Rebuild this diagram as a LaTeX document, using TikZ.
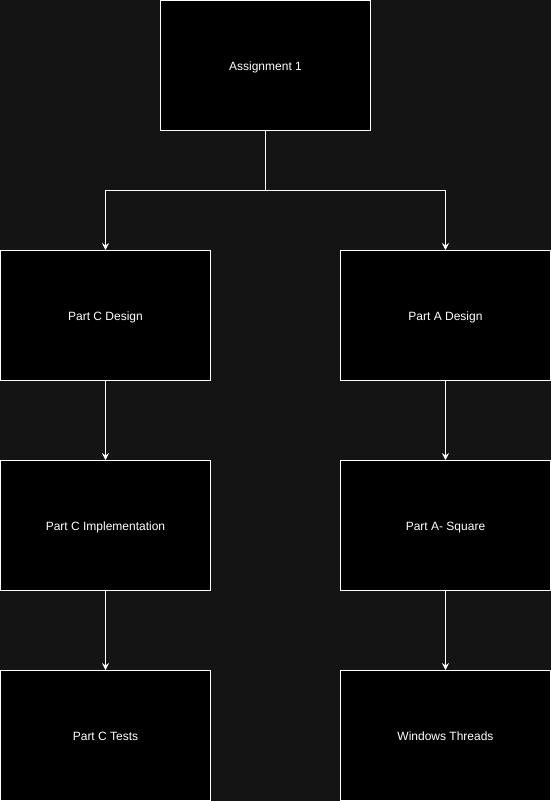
\documentclass[tikz,border=0pt]{standalone}
\usepackage{fontspec}
\setmainfont{Liberation Sans}
\usetikzlibrary{arrows.meta}
\definecolor{bgc}{HTML}{141414}
\tikzset{
  box/.style={draw=white, fill=black, line width=1pt, minimum width=210pt, minimum height=130pt, inner sep=0pt, text=white, text height=13pt, text depth=3pt, font=\fontsize{12pt}{14pt}\selectfont},
  conn/.style={draw=white, line width=1pt, -{Stealth[length=7pt,width=7pt,inset=2.5pt]}}
}
\begin{document}
\begin{tikzpicture}[x=1pt,y=-1pt]
\fill[bgc] (0,0) rectangle (551,801);
\useasboundingbox (0,0) rectangle (551,801);
\node[box] (a1) at (265.5,65.5) {Assignment 1};
\node[box] (cd) at (105.5,315.5) {Part C Design};
\node[box] (ad) at (445.5,315.5) {Part A Design};
\node[box] (ci) at (105.5,525.5) {Part C Implementation};
\node[box] (as) at (445.5,525.5) {Part A- Square};
\node[box] (ct) at (105.5,735.5) {Part C Tests};
\node[box] (wt) at (445.5,735.5) {Windows Threads};
\coordinate (j) at (265.5,190.5);
\draw[conn] (a1.south) -- (j) -| (cd.north);
\draw[conn] (a1.south) -- (j) -| (ad.north);
\draw[conn] (cd) -- (ci);
\draw[conn] (ad) -- (as);
\draw[conn] (ci) -- (ct);
\draw[conn] (as) -- (wt);
\end{tikzpicture}
\end{document}
